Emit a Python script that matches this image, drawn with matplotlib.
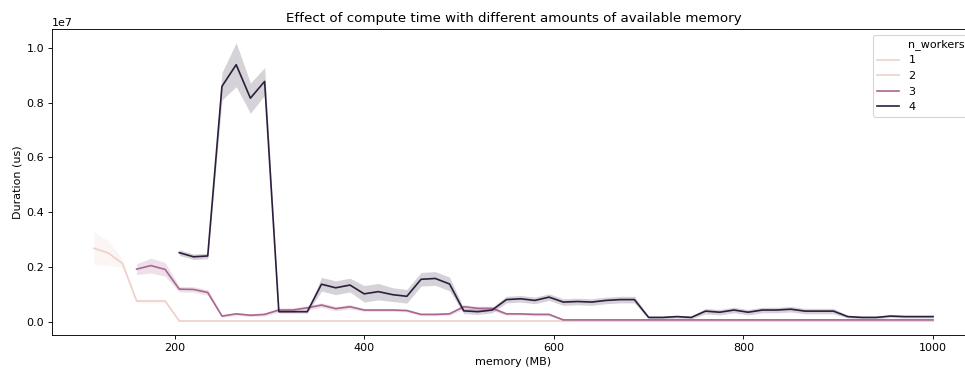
import numpy as np
import matplotlib
matplotlib.use('Agg')
import matplotlib.pyplot as plt
from matplotlib.lines import Line2D
import seaborn as sns

# memory grid (MB)
memory = np.arange(115, 1001, 15)

# mean durations in units of 1e6 us
dur_2 = [2.69, 2.52, 2.14, 0.77, 0.77, 0.77] + [0.04] * 54
err_2 = [0.6, 0.45, 0.15, 0.06, 0.06, 0.06] + [0.02] * 54

dur_3 = [1.93, 2.06, 1.92, 1.20, 1.19, 1.08, 0.22, 0.30, 0.25, 0.28,
         0.44, 0.44, 0.52, 0.62, 0.49, 0.56, 0.44, 0.44, 0.44, 0.42,
         0.28, 0.28, 0.30, 0.56, 0.50, 0.50, 0.30, 0.30, 0.28, 0.28,
         0.08] + [0.08] * 26
err_3 = [0.2, 0.27, 0.25, 0.1, 0.1, 0.1, 0.05, 0.05, 0.05, 0.05,
         0.08, 0.08, 0.08, 0.08, 0.08, 0.08, 0.05, 0.05, 0.05, 0.05,
         0.05, 0.05, 0.05, 0.08, 0.08, 0.08, 0.05, 0.05, 0.05, 0.05,
         0.03] + [0.03] * 26

dur_4 = [2.53, 2.38, 2.41, 8.59, 9.38, 8.16, 8.77, 0.38, 0.38, 0.38,
         1.38, 1.25, 1.35, 1.03, 1.11, 1.00, 0.94, 1.56, 1.59, 1.39,
         0.41, 0.38, 0.44, 0.82, 0.85, 0.79, 0.91, 0.73, 0.75, 0.73,
         0.79, 0.82, 0.82, 0.17, 0.17, 0.20, 0.17, 0.40, 0.36, 0.44,
         0.36, 0.44, 0.44, 0.47, 0.40, 0.40, 0.40, 0.20, 0.17, 0.17,
         0.22, 0.20, 0.20, 0.20]
err_4 = [0.1, 0.1, 0.1, 0.5, 0.8, 0.55, 0.5, 0.05, 0.05, 0.05,
         0.25, 0.25, 0.25, 0.3, 0.3, 0.25, 0.25, 0.25, 0.25, 0.25,
         0.1, 0.1, 0.1, 0.12, 0.12, 0.12, 0.12, 0.12, 0.12, 0.12,
         0.12, 0.12, 0.12, 0.05, 0.05, 0.05, 0.05, 0.1, 0.1, 0.1,
         0.1, 0.1, 0.1, 0.1, 0.1, 0.1, 0.1, 0.05, 0.05, 0.05,
         0.05, 0.05, 0.05, 0.05]

worker_labels = ['1', '2', '3', '4']

cmap = sns.cubehelix_palette(as_cmap=True)
colors = [cmap(0.0), cmap(0.0), cmap(0.5), cmap(1.0)]

fig = plt.figure(figsize=(965 / 80, 369 / 80), dpi=80)
ax = fig.add_axes([52 / 965, 34 / 369, 923 / 965, 306 / 369])

series = [(2, dur_2, err_2), (3, dur_3, err_3), (4, dur_4, err_4)]
for w, d, e in series:
    d = np.array(d) * 1e6
    e = np.array(e) * 1e6
    x = memory[len(memory) - len(d):]
    c = colors[w - 1]
    ax.fill_between(x, d - e, d + e, color=c, alpha=0.2, linewidth=0)
    ax.plot(x, d, color=c, linewidth=1.5)

ax.set_ylim(-0.47e6, 10.68e6)
ax.set_title('Effect of compute time with different amounts of available memory')
ax.set_xlabel('memory (MB)')
ax.set_ylabel('Duration (us)')

handles = [Line2D([], [], linestyle='', marker='')]
handles += [Line2D([], [], color=c, linewidth=1.5) for c in colors]
ax.legend(handles, ['n_workers'] + worker_labels, loc='upper right')

fig.savefig('out.png', dpi=80)
